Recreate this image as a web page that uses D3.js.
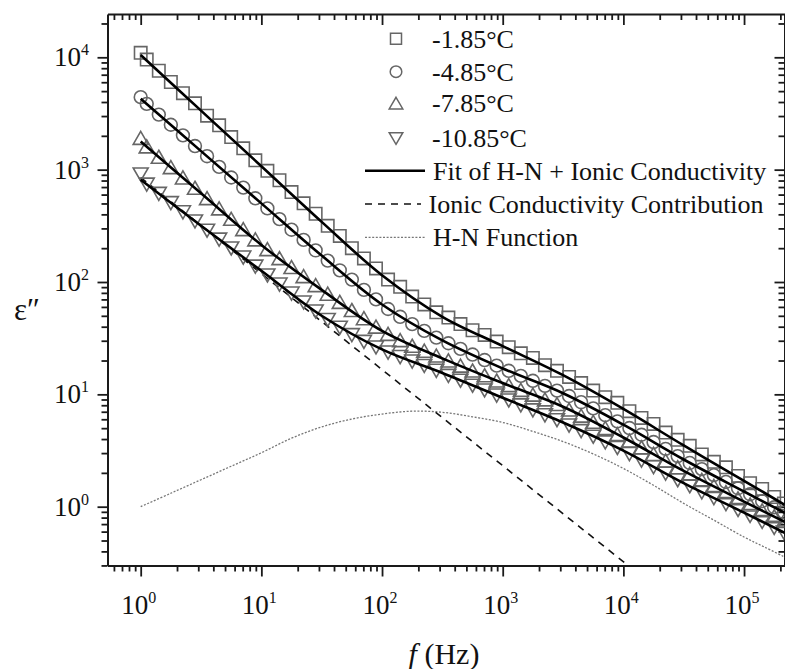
<!DOCTYPE html>
<html>
<head>
<meta charset="utf-8">
<script src="https://cdn.jsdelivr.net/npm/d3@7"></script>
<style>
  body { margin: 0; background: #fff; }
  svg text { font-family: "Liberation Serif", "Times New Roman", serif; fill: #111; }
</style>
</head>
<body>
<svg id="chart" width="785" height="669"></svg>
<script>
// Measurement frequencies (Hz)
const freqHz = [1, 1.122, 1.413, 1.778, 2.239, 2.818, 3.548, 4.467, 5.623, 7.079, 8.913,
  11.22, 14.13, 17.78, 22.39, 28.18, 35.48, 44.67, 56.23, 70.79, 89.13,
  112.2, 141.3, 177.8, 223.9, 281.8, 354.8, 446.7, 562.3, 707.9, 891.3,
  1122, 1413, 1778, 2239, 2818, 3548, 4467, 5623, 7079, 8913,
  11220, 14130, 17780, 22390, 28180, 35480, 44670, 56230, 70790, 89130,
  112200, 141300, 177800, 213800];

// Measured dielectric loss ε'' at each temperature
const eps_m185 = [10960, 9550, 7590, 6030, 4790, 3890, 3020, 2480, 1950, 1549, 1210,
  977, 805, 631, 501, 405, 316, 257, 200, 162, 132,
  105, 90.5, 74.1, 63.1, 53.7, 48.2, 42.2, 37.2, 33.8, 29.5,
  26.3, 23.2, 21.1, 18.2, 16.2, 14.3, 12.6, 10.8, 9.44, 8.4,
  7.08, 6.17, 5.45, 4.57, 3.94, 3.48, 2.92, 2.51, 2.24, 1.88,
  1.62, 1.44, 1.22, 1.07];
const eps_m485 = [4420, 3850, 3090, 2510, 2020, 1622, 1318, 1059, 851, 692, 556,
  452, 363, 292, 237, 191, 155, 127, 105, 85.1, 70.0,
  57.5, 49.0, 42.2, 36.7, 32.0, 28.5, 25.4, 22.6, 20.2, 18.0,
  16.2, 14.6, 13.2, 11.9, 10.8, 9.66, 8.51, 7.50, 6.53, 5.75,
  5.01, 4.37, 3.76, 3.27, 2.82, 2.45, 2.16, 1.91, 1.66, 1.46,
  1.29, 1.12, 0.989, 0.891];
const eps_m785 = [1905, 1600, 1294, 1047, 847, 686, 555, 449, 363, 294, 238,
  195, 162, 135, 112, 93.3, 78.2, 66.1, 56.0, 47.3, 39.8,
  34.3, 30.2, 26.9, 24.3, 22.0, 19.9, 17.9, 16.2, 14.7, 13.2,
  12.0, 10.9, 9.89, 8.97, 8.15, 7.28, 6.43, 5.66, 4.99, 4.40,
  3.85, 3.36, 2.93, 2.55, 2.23, 1.95, 1.72, 1.52, 1.34, 1.18,
  1.04, 0.923, 0.817, 0.741];
const eps_m1085 = [912, 740, 612, 507, 420, 348, 288, 240, 200, 166, 138,
  115, 95.5, 79.4, 66.1, 55.0, 46.2, 39.4, 33.9, 29.5, 26.3,
  23.7, 21.6, 19.7, 18.0, 16.3, 14.7, 13.3, 12.0, 10.9, 9.82,
  8.87, 8.02, 7.24, 6.55, 5.92, 5.31, 4.73, 4.22, 3.76, 3.35,
  2.96, 2.59, 2.26, 1.98, 1.73, 1.53, 1.35, 1.20, 1.06, 0.940,
  0.832, 0.736, 0.652, 0.592];

// Fitted H-N + ionic conductivity model, evaluated every half decade
const fitFreq = [1, 3.162, 10, 31.62, 100, 316.2, 1000, 3162, 10000, 31620, 100000, 218800];
const fit_m185  = [10470, 3350, 1072, 342.8, 114.8, 49.0, 26.9, 14.8, 7.41, 3.51, 1.70, 1.035];
const fit_m485  = [4270, 1462, 501, 171.8, 63.1, 30.2, 17.0, 10.23, 5.37, 2.63, 1.365, 0.879];
const fit_m785  = [1778, 616.6, 213.8, 85.1, 36.7, 20.9, 12.6, 7.76, 4.13, 2.08, 1.109, 0.731];
const fit_m1085 = [812.8, 316.2, 125.9, 50.1, 25.1, 15.5, 9.33, 5.62, 3.16, 1.62, 0.885, 0.583];

// Ionic conductivity contribution (power law, straight on log-log axes)
const condFreq = [1, 31620];
const condValues = [851, 0.121];

// H-N relaxation function
const hnFreq = [1, 1.778, 3.162, 5.623, 10, 17.78, 31.62, 56.23, 100, 177.8, 316.2, 562.3,
  1000, 1778, 3162, 5623, 10000, 17780, 31620, 56230, 100000, 147900, 218800];
const hnValues = [1.00, 1.318, 1.738, 2.291, 3.02, 4.07, 5.13, 6.03, 6.68, 7.08, 6.92, 6.31,
  5.62, 4.68, 3.80, 2.95, 2.19, 1.55, 1.07, 0.759, 0.537, 0.437, 0.355];

const tempLabels = ["-1.85°C", "-4.85°C", "-7.85°C", "-10.85°C"];
const xTickExp = [0, 1, 2, 3, 4, 5];
const yTickExp = [0, 1, 2, 3, 4];

const svg = d3.select("#chart");
const plot = { left: 107.5, right: 784.5, top: 14, bottom: 565.5 };

const x = d3.scaleLog().domain([0.5308, 216400]).range([plot.left, plot.right]);
const y = d3.scaleLog().domain([0.2996, 24290]).range([plot.bottom, plot.top]);

svg.append("rect").attr("width", 785).attr("height", 669).attr("fill", "#fff");

svg.append("defs").append("clipPath").attr("id", "plotClip")
  .append("rect")
  .attr("x", plot.left).attr("y", plot.top)
  .attr("width", plot.right - plot.left).attr("height", plot.bottom - plot.top);

// minor tick positions (2..9 in every decade)
function minorTicks(scale) {
  const [a, b] = scale.domain();
  const out = [];
  for (let e = Math.floor(Math.log10(a)); e <= Math.ceil(Math.log10(b)); e++) {
    for (let k = 2; k <= 9; k++) {
      const v = k * Math.pow(10, e);
      if (v >= a && v <= b) out.push(v);
    }
  }
  return out;
}
const xMajor = xTickExp.map(e => Math.pow(10, e));
const yMajor = yTickExp.map(e => Math.pow(10, e));
const xMinor = minorTicks(x);
const yMinor = minorTicks(y);

function styleAxis(g) {
  g.select(".domain").attr("stroke", "#1a1a1a").attr("stroke-width", 2);
  g.selectAll(".tick line").attr("stroke", "#1a1a1a").attr("stroke-width", 1.8);
  g.selectAll(".tick text").remove();
}

function drawAxis(axisFn, scale, transform, major, minor, majorLen, minorLen) {
  const gMin = svg.append("g").attr("transform", transform)
    .call(axisFn(scale).tickValues(minor).tickSize(minorLen).tickSizeOuter(0).tickFormat(() => ""));
  styleAxis(gMin);
  gMin.select(".domain").remove();
  const gMaj = svg.append("g").attr("transform", transform)
    .call(axisFn(scale).tickValues(major).tickSize(majorLen).tickSizeOuter(0).tickFormat(() => ""));
  styleAxis(gMaj);
}

// bottom & left: outward ticks; top & right: inward ticks
drawAxis(d3.axisBottom, x, `translate(0,${plot.bottom})`, xMajor, xMinor, 11, 6);
drawAxis(d3.axisBottom, x, `translate(0,${plot.top})`, xMajor, xMinor, 11, 6);
drawAxis(d3.axisLeft, y, `translate(${plot.left},0)`, yMajor, yMinor, 10, 6);
drawAxis(d3.axisLeft, y, `translate(${plot.right},0)`, yMajor, yMinor, 10, 6);

// power-of-ten tick labels
const xl = svg.append("g").selectAll("text").data(xTickExp).join("text")
  .attr("x", e => x(Math.pow(10, e)) - 2)
  .attr("y", 614)
  .attr("text-anchor", "middle")
  .attr("font-size", 27);
xl.append("tspan").text("10");
xl.append("tspan").attr("dy", -11).attr("font-size", 16).text(e => e);

const yl = svg.append("g").selectAll("text").data(yTickExp).join("text")
  .attr("x", 89)
  .attr("y", e => y(Math.pow(10, e)) + 9)
  .attr("text-anchor", "end")
  .attr("font-size", 27);
yl.append("tspan").text("10");
yl.append("tspan").attr("dy", -11).attr("font-size", 16).text(e => e);

// axis titles
svg.append("text").attr("x", 14).attr("y", 320).attr("font-size", 31).text("ε″");
const xt = svg.append("text").attr("x", 444).attr("y", 664)
  .attr("text-anchor", "middle").attr("font-size", 30);
xt.append("tspan").attr("font-style", "italic").text("f");
xt.append("tspan").text(" (Hz)");

// data layer
const layer = svg.append("g").attr("clip-path", "url(#plotClip)");

const curve = d3.line()
  .x(d => x(d[0])).y(d => y(d[1]))
  .curve(d3.curveCatmullRom.alpha(0.5));

// H-N function
layer.append("path")
  .datum(d3.zip(hnFreq, hnValues))
  .attr("d", curve)
  .attr("fill", "none").attr("stroke", "#777").attr("stroke-width", 1.3)
  .attr("stroke-dasharray", "2,1.6");

// ionic conductivity contribution
layer.append("path")
  .datum(d3.zip(condFreq, condValues))
  .attr("d", d3.line().x(d => x(d[0])).y(d => y(d[1])))
  .attr("fill", "none").attr("stroke", "#111").attr("stroke-width", 1.6)
  .attr("stroke-dasharray", "7,6");

// marker shapes
const markerPath = {
  square: "M-6.2,-6.2H6.2V6.2H-6.2Z",
  circle: d3.path(),
  up: "M0,-6.8L7.5,6.2L-7.5,6.2Z",
  down: "M0,6.8L7.5,-6.2L-7.5,-6.2Z"
};
markerPath.circle.arc(0, 0, 6.4, 0, 2 * Math.PI);
markerPath.circle = markerPath.circle.toString();

const seriesData = [
  { label: tempLabels[0], values: eps_m185, fit: fit_m185, shape: "square" },
  { label: tempLabels[1], values: eps_m485, fit: fit_m485, shape: "circle" },
  { label: tempLabels[2], values: eps_m785, fit: fit_m785, shape: "up" },
  { label: tempLabels[3], values: eps_m1085, fit: fit_m1085, shape: "down" }
];

seriesData.forEach(s => {
  layer.append("g").selectAll("path")
    .data(d3.zip(freqHz, s.values))
    .join("path")
    .attr("transform", d => `translate(${x(d[0])},${y(d[1])})`)
    .attr("d", markerPath[s.shape])
    .attr("fill", "none").attr("stroke", "#666").attr("stroke-width", 1.6);
});

seriesData.forEach(s => {
  layer.append("path")
    .datum(d3.zip(fitFreq, s.fit))
    .attr("d", curve)
    .attr("fill", "none").attr("stroke", "#000").attr("stroke-width", 2.6);
});

// legend
const legendRows = [38.7, 71.7, 103.3, 138.3, 170.7, 204, 237.3];
const legendMarker = {
  square: "M-5.5,-5.5H5.5V5.5H-5.5Z",
  circle: (() => { const p = d3.path(); p.arc(0, 0, 5.8, 0, 2 * Math.PI); return p.toString(); })(),
  up: "M0,-6L6.8,5.6L-6.8,5.6Z",
  down: "M0,6L6.8,-5.6L-6.8,-5.6Z"
};
const leg = svg.append("g");
seriesData.forEach((s, i) => {
  leg.append("path")
    .attr("transform", `translate(396,${legendRows[i]})`)
    .attr("d", legendMarker[s.shape])
    .attr("fill", "none").attr("stroke", "#666").attr("stroke-width", 1.5);
  leg.append("text").attr("x", 432).attr("y", legendRows[i] + 9)
    .attr("font-size", 26).text(s.label);
});
const lineLegend = [
  { text: "Fit of H-N + Ionic Conductivity", stroke: "#000", width: 2.6, dash: null, x0: 365, x1: 425, tx: 433 },
  { text: "Ionic Conductivity Contribution", stroke: "#111", width: 1.6, dash: "7,6", x0: 365, x1: 421, tx: 428.5 },
  { text: "H-N Function", stroke: "#777", width: 1.3, dash: "2,1.6", x0: 365, x1: 425, tx: 433 }
];
lineLegend.forEach((d, i) => {
  const cy = legendRows[4 + i];
  leg.append("line").attr("x1", d.x0).attr("x2", d.x1).attr("y1", cy).attr("y2", cy)
    .attr("stroke", d.stroke).attr("stroke-width", d.width)
    .attr("stroke-dasharray", d.dash);
  leg.append("text").attr("x", d.tx).attr("y", cy + 9).attr("font-size", 26).text(d.text);
});
</script>
</body>
</html>
